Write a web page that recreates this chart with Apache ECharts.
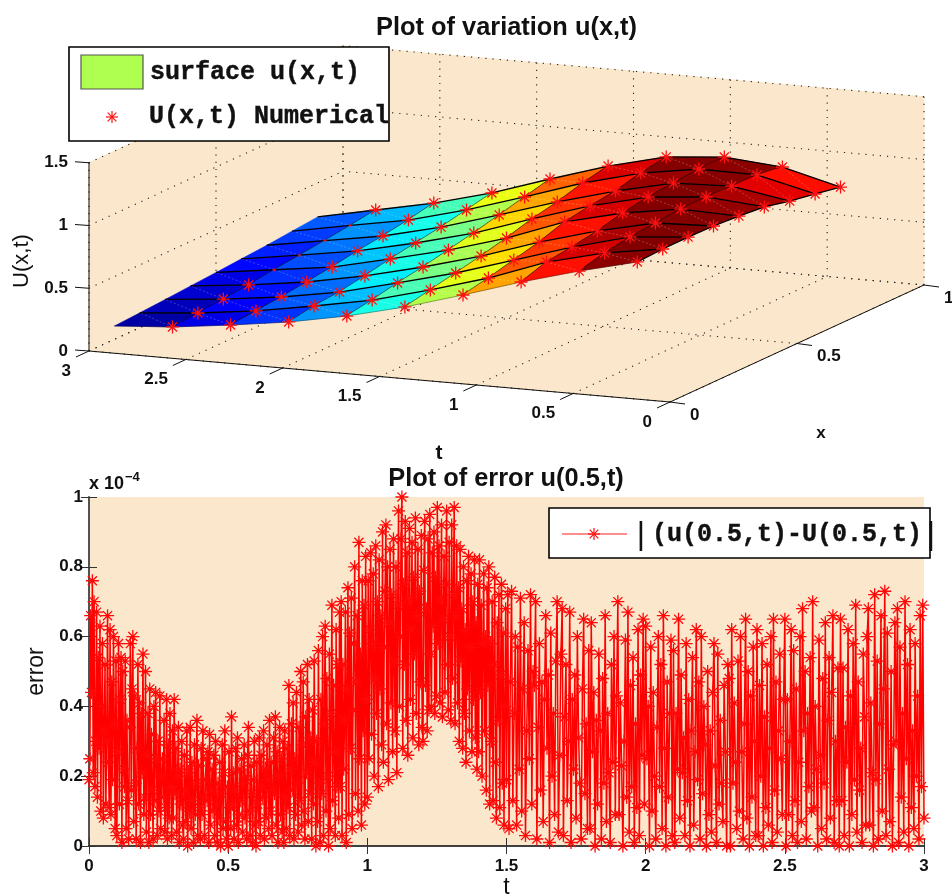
<!DOCTYPE html>
<html lang="en">
<head>
<meta charset="UTF-8">
<title>Plot of variation u(x,t)</title>
<script src="https://cdn.jsdelivr.net/npm/echarts@6/dist/echarts.min.js"></script>
<style>
    html, body {margin: 0; padding: 0; background: #fff;}
    #main {width: 952px; height: 896px;}
</style>
</head>
<body>
<div id="main"></div>
<script>
    // surface nodes, read from the red stars
    const tNodes = [0.3, 0.6, 0.9, 1.2, 1.5, 1.8, 2.1, 2.4, 2.7, 3.0];
    const xNodes = [0.1, 0.2, 0.3, 0.4, 0.5, 0.6, 0.7, 0.8, 0.9];
    const uSurface = [
        [.982, .992, .994, .989, .975, .954, .908, .871, .833],
        [.869, .920, .954, .972, .990, .993, .987, .982, .952],
        [.741, .807, .833, .868, .918, .952, .970, .989, .991],
        [.597, .639, .689, .739, .806, .840, .866, .916, .951],
        [.461, .503, .545, .587, .637, .696, .738, .796, .838],
        [.348, .382, .425, .459, .501, .543, .594, .644, .694],
        [.260, .294, .312, .347, .389, .423, .457, .500, .542],
        [.195, .214, .232, .258, .284, .319, .345, .379, .421],
        [.139, .157, .175, .194, .222, .245, .268, .295, .325],
        [.106, .118, .131, .146, .160, .175, .190, .210, .229]
    ];
    // stars that sit under the surface, only a speck shows [t index, x index]
    const buriedStars = [[8, 4], [8, 5], [8, 6], [8, 7]];

    const tTicks3d = [0, 0.5, 1, 1.5, 2, 2.5, 3];
    const xTicks3d = [0, 0.5, 1];
    const zTicks3d = [0, 0.5, 1, 1.5];

    // |u(0.5,t)-U(0.5,t)| in units of 1e-4, one row for every 0.1 of t
    const errorRows = [
        [.19,.25,.66,.44,.76,.21,.70,.17,.30,.67,.14,.54,.28,.63,.10,.40,.58,.08,.33,.52,.12,.30,.66,.24,.11,.62,.09,.47,.19,.60,.35,.05,.53],
        [.03,.27,.58,.12,.42,.54,.01,.50,.22,.17,.53,.05,.36,.13,.02,.34,.58,.16,.45,.60,.07,.43,.18,.02,.28,.52,.12,.41,.01,.38,.21,.55,.09],
        [.14,.50,.04,.26,.38,.01,.45,.09,.32,.16,.02,.40,.13,.44,.25,.03,.30,.10,.43,.05,.20,.25,.14,.36,.04,.11,.42,.02,.29,.08,.38,.17,.03],
        [.33,.08,.42,.15,.28,.04,.20,.34,.01,.22,.12,.30,.06,.02,.26,.16,.07,.33,.00,.21,.10,.34,.05,.24,.13,.01,.29,.09,.18,.36,.03,.23,.11],
        [.02,.28,.09,.33,.14,.03,.19,.25,.13,.27,.01,.32,.06,.16,.22,.10,.26,.03,.30,.12,.01,.18,.08,.24,.00,.15,.29,.05,.21,.33,.07,.02,.17],
        [.00,.27,.11,.05,.37,.12,.21,.02,.16,.28,.06,.31,.01,.09,.22,.13,.25,.04,.18,.29,.08,.20,.02,.26,.34,.10,.03,.23,.15,.01,.19,.30,.06],
        [.00,.24,.12,.07,.31,.03,.26,.17,.14,.33,.02,.22,.08,.29,.19,.05,.36,.10,.24,.03,.16,.31,.15,.37,.06,.27,.01,.20,.34,.09,.25,.04,.30],
        [.01,.33,.14,.05,.28,.11,.46,.03,.22,.35,.16,.41,.02,.25,.09,.44,.18,.04,.34,.13,.50,.06,.29,.47,.10,.02,.37,.21,.52,.07,.42,.15,.31],
        [.02,.39,.12,.53,.24,.00,.30,.07,.56,.18,.01,.42,.15,.60,.03,.35,.63,.10,.48,.20,.00,.55,.05,.38,.69,.13,.46,.27,.03,.62,.17,.52,.08],
        [.67,.17,.70,.03,.52,.22,.36,.67,.01,.45,.74,.09,.61,.28,.71,.05,.39,.58,.80,.15,.47,.66,.10,.87,.25,.55,.06,.76,.33,.69,.12,.83,.42],
        [.14,.76,.25,.62,.84,.32,.58,.78,.20,.48,.86,.38,.70,.17,.82,.45,.66,.29,.90,.24,.57,.73,.92,.35,.80,.19,.64,.85,.41,.72,.27,.88,.53],
        [.33,.80,.21,.69,.96,.40,.60,.88,1.0,.28,.75,.52,.93,.36,.84,.26,.71,.91,.42,.62,.87,.31,.77,.55,.94,.38,.66,.85,.29,.73,.47,.89,.34],
        [.30,.79,.93,.46,.68,.33,.88,.39,.95,.55,.40,.84,.63,.90,.38,.77,.43,.97,.58,.86,.41,.71,.92,.37,.65,.83,.44,.75,.96,.52,.39,.87,.60],
        [.36,.92,.48,.72,.97,.35,.66,.86,.41,.74,.30,.85,.53,.68,.28,.80,.38,.62,.24,.76,.45,.83,.33,.57,.78,.27,.70,.42,.82,.31,.64,.22,.75],
        [.27,.82,.44,.69,.20,.58,.78,.33,.60,.16,.74,.46,.80,.12,.58,.30,.70,.13,.52,.77,.24,.08,.64,.36,.72,.11,.49,.75,.18,.61,.06,.40,.68],
        [.19,.72,.05,.47,.73,.13,.38,.60,.06,.57,.22,.71,.10,.45,.64,.03,.33,.56,.25,.72,.12,.50],
        [.46,.70,.02,.34,.58,.16,.47,.07,.42,.66,.28,.49,.01,.61,.20,.38,.09,.53,.70,.04,.26,.55],
        [.68,.03,.37,.52,.13,.30,.67,.01,.42,.22,.49,.08,.60,.31,.18,.02,.45,.65,.15,.35,.05,.56],
        [.05,.64,.27,.44,.00,.36,.12,.55,.33,.02,.48,.18,.66,.07,.38,.21,.01,.52,.24,.60,.09,.43],
        [.70,.09,.41,.23,.00,.30,.59,.14,.67,.04,.46,.17,.54,.01,.35,.11,.62,.03,.49,.26,.65,.12],
        [.63,.25,.40,.00,.57,.10,.44,.20,.02,.34,.60,.17,.52,.05,.66,.28,.00,.47,.14,.38,.59,.03],
        [.56,.01,.38,.22,.65,.08,.49,.21,.31,.03,.58,.13,.42,.00,.33,.54,.06,.27,.62,.19,.47,.02],
        [.60,.15,.40,.29,.00,.50,.09,.33,.04,.44,.58,.23,.01,.55,.12,.36,.18,.07,.46,.27,.00,.52],
        [.48,.00,.62,.18,.41,.24,.05,.53,.10,.60,.27,.02,.35,.65,.08,.50,.00,.43,.14,.57,.30,.03],
        [.62,.03,.46,.20,.58,.00,.37,.11,.52,.06,.28,.60,.01,.65,.16,.47,.04,.33,.55,.25,.09,.42],
        [.65,.00,.42,.09,.30,.62,.03,.56,.13,.45,.01,.24,.60,.07,.68,.33,.50,.02,.38,.17,.54,.10],
        [.70,.11,.40,.22,.00,.59,.26,.05,.48,.18,.64,.02,.36,.54,.08,.44,.66,.01,.30,.13,.51,.00],
        [.65,.13,.51,.03,.34,.24,.62,.00,.43,.09,.58,.19,.69,.04,.47,.16,.28,.01,.55,.37,.06,.60],
        [.68,.06,.41,.21,.00,.72,.19,.53,.02,.35,.66,.10,.45,.73,.03,.61,.22,.07,.50,.00,.29,.64],
        [.30,.68,.01,.57,.14,.38,.04,.70,.25,.52,.00,.62,.11,.33,.05,.58,.20,.43,.02,.66,.17,.69],
        [.08]
    ];

    const BEIGE = '#fbe8cc';
    const SANS = '"Liberation Sans", Arial, sans-serif';
    const MONO = '"Liberation Mono", "Courier New", monospace';
    // eight ray asterisk used as the marker, same as Matlab's '*'
    const STAR_PATH = 'M9 0H11V20H9ZM0 9H20V11H0ZM2.3 3.7L3.7 2.3L17.7 16.3L16.3 17.7ZM16.3 2.3L17.7 3.7L3.7 17.7L2.3 16.3Z';

    // orthographic view of the 3d box, gives coordinates on the hidden full page axes
    function project(t, x, z) {
        return [
            89 + (3 - t) * 193.67 + 254 * x,
            351 + (3 - t) * 17 - 117 * x - 125.5 * z
        ];
    }

    function jet(v) {
        v = Math.max(0, Math.min(1, v));
        let r = Math.min(1, Math.max(0, Math.min(4 * v - 1.5, 4.5 - 4 * v)));
        let g = Math.min(1, Math.max(0, Math.min(4 * v - 0.5, 3.5 - 4 * v)));
        let b = Math.min(1, Math.max(0, Math.min(4 * v + 0.5, 2.5 - 4 * v)));
        return 'rgb(' + Math.round(r * 255) + ',' + Math.round(g * 255) + ',' + Math.round(b * 255) + ')';
    }

    // box walls and floor
    const boxFaces = [
        [[0, 0, 0], [3, 0, 0], [3, 1, 0], [0, 1, 0]],
        [[3, 0, 0], [3, 1, 0], [3, 1, 1.5], [3, 0, 1.5]],
        [[0, 1, 0], [3, 1, 0], [3, 1, 1.5], [0, 1, 1.5]]
    ];

    // dotted grid
    const gridSegments = [];
    tTicks3d.forEach(function (t) {
        gridSegments.push([t, 0, 0, t, 1, 0], [t, 1, 0, t, 1, 1.5]);
    });
    xTicks3d.forEach(function (x) {
        gridSegments.push([0, x, 0, 3, x, 0], [3, x, 0, 3, x, 1.5]);
    });
    zTicks3d.forEach(function (z) {
        gridSegments.push([0, 1, z, 3, 1, z], [3, 0, z, 3, 1, z]);
    });

    // axis lines and ticks, the last two numbers are a pixel offset for the tick end
    const axisSegments = [
        [3, 0, 0, 0, 0, 0, 0, 0], [0, 0, 0, 0, 1, 0, 0, 0], [3, 0, 0, 3, 0, 1.5, 0, 0]
    ];
    const axisTexts = [];
    tTicks3d.forEach(function (t) {
        axisSegments.push([t, 0, 0, t, 0, 0, -13, 6]);
        axisTexts.push([t, 0, 0, -18, 20, String(t), 'right']);
    });
    xTicks3d.forEach(function (x) {
        axisSegments.push([0, x, 0, 0, x, 0, 15, 2]);
        axisTexts.push([0, x, 0, 20, 13, String(x), 'left']);
    });
    zTicks3d.forEach(function (z) {
        axisSegments.push([3, 0, z, 3, 0, z, -14, -1]);
        axisTexts.push([3, 0, z, -21, 0, String(z), 'right']);
    });

    // surface cells, colour comes from the lower corner like surf does
    const surfaceCells = [];
    for (let i = tNodes.length - 2; i >= 0; i--) {
        for (let j = xNodes.length - 2; j >= 0; j--) {
            surfaceCells.push([i, j]);
        }
    }
    const allU = uSurface.flat();
    const uMin = Math.min.apply(null, allU);
    const uMax = Math.max.apply(null, allU);

    const starData = [];
    for (let i = 0; i < tNodes.length - 1; i++) {
        for (let j = 0; j < xNodes.length; j++) {
            let buried = buriedStars.some(function (b) { return b[0] === i && b[1] === j; });
            let p = project(tNodes[i], xNodes[j], uSurface[i][j]);
            starData.push({value: p, symbolSize: buried ? 4 : 13});
        }
    }

    // each row holds its samples evenly over its 0.1 stretch of t
    const errorPoints = [];
    errorRows.forEach(function (row, r) {
        row.forEach(function (v, k) {
            errorPoints.push([(r + k / row.length) * 0.1, v]);
        });
    });

    function nodePoint(api, i, j) {
        return api.coord(project(tNodes[i], xNodes[j], uSurface[i][j]));
    }

    function renderSurfaceCell(params, api) {
        let cell = surfaceCells[api.value(0)];
        let i = cell[0], j = cell[1];
        let a = nodePoint(api, i, j), b = nodePoint(api, i + 1, j);
        let c = nodePoint(api, i + 1, j + 1), d = nodePoint(api, i, j + 1);
        let fill = jet((uSurface[i][j] - uMin) / (uMax - uMin));
        let children = [
            {type: 'polygon', shape: {points: [a, b, c, d]}, style: {fill: fill, stroke: fill, lineWidth: 0.5}},
            {type: 'line', shape: {x1: a[0], y1: a[1], x2: c[0], y2: c[1]},
                style: {stroke: 'rgba(255,255,255,0.35)', lineWidth: 0.7, lineDash: [2, 2]}},
            {type: 'line', shape: {x1: a[0], y1: a[1], x2: d[0], y2: d[1]}, style: {stroke: '#000', lineWidth: 1.3}},
            {type: 'line', shape: {x1: d[0], y1: d[1], x2: c[0], y2: c[1]}, style: {stroke: '#000', lineWidth: 1.3}}
        ];
        if (j === 0) {
            children.push({type: 'line', shape: {x1: a[0], y1: a[1], x2: b[0], y2: b[1]},
                style: {stroke: 'rgba(0,0,0,0.5)', lineWidth: 0.7}});
        }
        return {type: 'group', children: children};
    }

    function indexData(list) {
        return list.map(function (item, n) { return [n, 0]; });
    }

    // legend key star, the graphic component has no path element
    function legendStar(cx, cy, r) {
        let d = r * 0.72;
        return [[0, -r, 0, r], [-r, 0, r, 0], [-d, -d, d, d], [d, -d, -d, d]].map(function (s) {
            return {type: 'line', z: 51, shape: {x1: cx + s[0], y1: cy + s[1], x2: cx + s[2], y2: cy + s[3]},
                style: {stroke: '#ff1010', lineWidth: 1.2}};
        });
    }

    function monoStyle(text) {
        return {text: text, font: 'bold 25px ' + MONO, fill: '#111', stroke: '#111', lineWidth: 0.4, verticalAlign: 'middle'};
    }

    const option = {
        animation: false,
        backgroundColor: '#fff',
        title: [
            {text: 'Plot of variation u(x,t)', left: 501.5, top: 10, textAlign: 'center',
                textStyle: {fontFamily: SANS, fontWeight: 'bold', fontSize: 25.4, color: '#111'}},
            {text: 'Plot of error u(0.5,t)', left: 501, top: 461, textAlign: 'center',
                textStyle: {fontFamily: SANS, fontWeight: 'bold', fontSize: 25.4, color: '#111'}}
        ],
        grid: [
            {left: 0, right: 0, top: 0, bottom: 0, show: false, outerBoundsMode: 'none'},
            {left: 89, top: 497, width: 835, height: 349, show: true, backgroundColor: BEIGE, borderWidth: 0, outerBoundsMode: 'none'}
        ],
        xAxis: [
            {gridIndex: 0, type: 'value', min: 0, max: 952, show: false},
            {
                gridIndex: 1, type: 'value', min: 0, max: 3, interval: 0.5,
                name: 't', nameLocation: 'middle', nameGap: 29,
                nameTextStyle: {fontFamily: SANS, fontSize: 23, color: '#111'},
                axisLine: {lineStyle: {color: '#000', width: 2}},
                axisTick: {inside: true, length: 8, lineStyle: {color: '#333'}},
                axisLabel: {fontFamily: SANS, fontWeight: 'bold', fontSize: 17, color: '#111', margin: 12},
                splitLine: {show: false}
            },
            {
                gridIndex: 1, type: 'value', min: 0, max: 3, interval: 0.5, position: 'top',
                axisLine: {lineStyle: {color: '#555', width: 1.5}},
                axisTick: {inside: true, length: 8, lineStyle: {color: '#333'}},
                axisLabel: {show: false}, splitLine: {show: false}
            }
        ],
        yAxis: [
            {gridIndex: 0, type: 'value', min: 0, max: 896, inverse: true, show: false},
            {
                gridIndex: 1, type: 'value', min: 0, max: 1, interval: 0.2,
                name: 'error', nameLocation: 'middle', nameGap: 37, nameRotate: 90,
                nameTextStyle: {fontFamily: SANS, fontSize: 23, color: '#111'},
                axisLine: {lineStyle: {color: '#111', width: 1.5}},
                axisTick: {inside: true, length: 8, lineStyle: {color: '#333'}},
                axisLabel: {fontFamily: SANS, fontWeight: 'bold', fontSize: 17, color: '#111', margin: 6},
                splitLine: {show: false}
            },
            {
                gridIndex: 1, type: 'value', min: 0, max: 1, interval: 0.2, position: 'right',
                axisLine: {lineStyle: {color: '#555', width: 1.5}},
                axisTick: {inside: true, length: 8, lineStyle: {color: '#333'}},
                axisLabel: {show: false}, splitLine: {show: false}
            }
        ],
        series: [
            {
                name: 'box', type: 'custom', xAxisIndex: 0, yAxisIndex: 0, clip: false, z: 1, silent: true,
                data: indexData(boxFaces),
                renderItem: function (params, api) {
                    let points = boxFaces[api.value(0)].map(function (c) {
                        return api.coord(project(c[0], c[1], c[2]));
                    });
                    return {type: 'polygon', shape: {points: points}, style: {fill: BEIGE, stroke: BEIGE}};
                }
            },
            {
                name: 'grid', type: 'custom', xAxisIndex: 0, yAxisIndex: 0, clip: false, z: 2, silent: true,
                data: indexData(gridSegments),
                renderItem: function (params, api) {
                    let s = gridSegments[api.value(0)];
                    let a = api.coord(project(s[0], s[1], s[2])), b = api.coord(project(s[3], s[4], s[5]));
                    return {type: 'line', shape: {x1: a[0], y1: a[1], x2: b[0], y2: b[1]},
                        style: {stroke: '#222', lineWidth: 1.1, lineDash: [1.2, 6]}};
                }
            },
            {
                name: 'axes3d', type: 'custom', xAxisIndex: 0, yAxisIndex: 0, clip: false, z: 3, silent: true,
                data: indexData(axisSegments),
                renderItem: function (params, api) {
                    let s = axisSegments[api.value(0)];
                    let a = api.coord(project(s[0], s[1], s[2])), b = api.coord(project(s[3], s[4], s[5]));
                    return {type: 'line', shape: {x1: a[0], y1: a[1], x2: b[0] + s[6], y2: b[1] + s[7]},
                        style: {stroke: '#111', lineWidth: 1}};
                }
            },
            {
                name: 'labels3d', type: 'custom', xAxisIndex: 0, yAxisIndex: 0, clip: false, z: 3, silent: true,
                data: indexData(axisTexts),
                renderItem: function (params, api) {
                    let s = axisTexts[api.value(0)];
                    let a = api.coord(project(s[0], s[1], s[2]));
                    return {type: 'text', x: a[0] + s[3], y: a[1] + s[4],
                        style: {text: s[5], font: 'bold 17px ' + SANS, fill: '#111', align: s[6], verticalAlign: 'middle'}};
                }
            },
            {
                name: 'surface u(x,t)', type: 'custom', xAxisIndex: 0, yAxisIndex: 0, clip: false, z: 4, silent: true,
                data: indexData(surfaceCells),
                renderItem: renderSurfaceCell
            },
            {
                name: 'U(x,t) Numerical', type: 'scatter', xAxisIndex: 0, yAxisIndex: 0, clip: false, z: 5, silent: true,
                symbol: 'path://' + STAR_PATH,
                itemStyle: {color: '#ff1010', opacity: 1},
                data: starData
            },
            {
                name: 'error', type: 'line', xAxisIndex: 1, yAxisIndex: 1, clip: false, z: 5, silent: true,
                symbol: 'path://' + STAR_PATH, symbolSize: 13, showAllSymbol: true,
                lineStyle: {color: '#ff0000', width: 1.5},
                itemStyle: {color: '#ff0808'},
                data: errorPoints
            }
        ],
        graphic: [
            // upper legend
            {type: 'rect', z: 50, shape: {x: 69, y: 47, width: 320, height: 94}, style: {fill: '#fff', stroke: '#000', lineWidth: 1.6}},
            {type: 'rect', z: 51, shape: {x: 81, y: 55, width: 62, height: 34}, style: {fill: '#aeff50', stroke: '#555', lineWidth: 1.2}},
            {type: 'text', z: 51, x: 150, y: 73, style: monoStyle('surface u(x,t)')},
            {type: 'text', z: 51, x: 149, y: 117, style: monoStyle('U(x,t) Numerical')},
            // lower legend
            {type: 'rect', z: 50, shape: {x: 549, y: 508, width: 381, height: 50}, style: {fill: '#fff', stroke: '#000', lineWidth: 1.6}},
            {type: 'line', z: 51, shape: {x1: 562, y1: 534, x2: 627, y2: 534}, style: {stroke: '#ff2020', lineWidth: 1.2}},
            {type: 'text', z: 51, x: 641, y: 535, style: {text: '|', font: '32px ' + SANS, fill: '#111', align: 'center', verticalAlign: 'middle'}},
            {type: 'text', z: 51, x: 652, y: 535, style: monoStyle('(u(0.5,t)-U(0.5,t)')},
            {type: 'text', z: 51, x: 931, y: 535, style: {text: '|', font: '32px ' + SANS, fill: '#111', align: 'center', verticalAlign: 'middle'}},
            // axis names of the 3d plot
            {type: 'text', z: 51, x: 821, y: 433, style: {text: 'x', font: 'bold 17px ' + SANS, fill: '#111', align: 'center', verticalAlign: 'middle'}},
            {type: 'text', z: 51, x: 439, y: 453, style: {text: 't', font: 'bold 21px ' + SANS, fill: '#111', align: 'center', verticalAlign: 'middle'}},
            {type: 'text', z: 51, x: 22, y: 261, rotation: Math.PI / 2, style: {text: 'U(x,t)', font: '22px ' + SANS, fill: '#111', align: 'center', verticalAlign: 'middle'}},
            // exponent of the error axis
            {type: 'text', z: 51, x: 89, y: 484, style: {text: 'x 10', font: 'bold 18px ' + SANS, fill: '#111', verticalAlign: 'middle'}},
            {type: 'text', z: 51, x: 125, y: 477, style: {text: '\u22124', font: 'bold 13px ' + SANS, fill: '#111', verticalAlign: 'middle'}}
        ].concat(legendStar(112, 117, 6), legendStar(594, 534, 6))
    };

    let myChart = echarts.init(document.getElementById('main'));
    myChart.setOption(option);
</script>
</body>
</html>
